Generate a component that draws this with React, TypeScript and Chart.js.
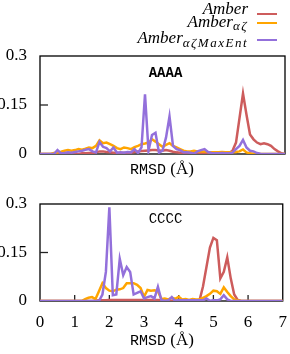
import React, { useEffect, useRef } from "react";
import { Chart, registerables } from "chart.js";

Chart.register(...registerables);

// RMSD bins (Å)
const RMSD = [
  0.0, 0.1, 0.2, 0.3, 0.4, 0.5, 0.6, 0.7, 0.8, 0.9,
  1.0, 1.1, 1.2, 1.3, 1.4, 1.5, 1.6, 1.7, 1.8, 1.9,
  2.0, 2.1, 2.2, 2.3, 2.4, 2.5, 2.6, 2.7, 2.8, 2.9,
  3.0, 3.1, 3.2, 3.3, 3.4, 3.5, 3.6, 3.7, 3.8, 3.9,
  4.0, 4.1, 4.2, 4.3, 4.4, 4.5, 4.6, 4.7, 4.8, 4.9,
  5.0, 5.1, 5.2, 5.3, 5.4, 5.5, 5.6, 5.7, 5.8, 5.9,
  6.0, 6.1, 6.2, 6.3, 6.4, 6.5, 6.6, 6.7, 6.8, 6.9, 7.0,
];

// AAAA panel
const AAAA_AMBER = [
  0, 0, 0, 0, 0, 0, 0, 0, 0, 0,
  0, 0, 0.002, 0.002, 0.003, 0.003, 0.005, 0.008, 0.008, 0.006,
  0.005, 0.004, 0.003, 0.003, 0.004, 0.003, 0.004, 0.006, 0.008, 0.009,
  0.01, 0.011, 0.012, 0.012, 0.011, 0.01, 0.012, 0.01, 0.007, 0.005,
  0.004, 0.003, 0.002, 0.002, 0.002, 0.002, 0.003, 0.002, 0.002, 0.002,
  0.002, 0.002, 0.002, 0.002, 0.003, 0.01, 0.035, 0.11, 0.185, 0.12,
  0.06, 0.045, 0.035, 0.03, 0.033, 0.03, 0.025, 0.015, 0.008, 0.002, 0,
];
const AAAA_AZ = [
  0, 0, 0, 0, 0.003, 0.005, 0.007, 0.01, 0.012, 0.01,
  0.012, 0.015, 0.013, 0.016, 0.02, 0.018, 0.025, 0.042, 0.033, 0.035,
  0.03, 0.025, 0.018, 0.015, 0.02, 0.018, 0.015, 0.021, 0.025, 0.03,
  0.032, 0.035, 0.045, 0.038, 0.03, 0.022, 0.028, 0.033, 0.025, 0.02,
  0.015, 0.01, 0.008, 0.008, 0.01, 0.008, 0.008, 0.008, 0.006, 0.005,
  0.005, 0.005, 0.006, 0.005, 0.005, 0.005, 0.006, 0.008, 0.014, 0.005,
  0.002, 0.001, 0, 0, 0, 0, 0, 0, 0, 0, 0,
];
const AAAA_AZME = [
  0, 0, 0, 0, 0, 0.012, 0.002, 0.003, 0.005, 0.004,
  0.006, 0.008, 0.01, 0.013, 0.015, 0.008, 0.005, 0.037, 0.022, 0.018,
  0.008, 0.02, 0.004, 0.005, 0.004, 0.006, 0.005, 0.015, 0.003, 0.02,
  0.183, 0.01, 0.058, 0.065, 0.004, 0.01, 0.05, 0.115, 0.025, 0.015,
  0.012, 0.005, 0.005, 0.004, 0.001, 0.008, 0.012, 0.015, 0.006, 0.003,
  0.002, 0.002, 0.003, 0.002, 0.002, 0.004, 0.015, 0.025, 0.043, 0.02,
  0.01, 0.008, 0.003, 0.001, 0, 0, 0, 0, 0, 0, 0,
];

// CCCC panel
const CCCC_AMBER = [
  0, 0, 0, 0, 0, 0, 0, 0, 0, 0,
  0, 0, 0, 0, 0, 0, 0.001, 0.002, 0.002, 0.002,
  0.003, 0.003, 0.003, 0.003, 0.003, 0.003, 0.003, 0.003, 0.003, 0.003,
  0.003, 0.003, 0.003, 0.003, 0.003, 0.002, 0.002, 0.002, 0.001, 0.001,
  0.001, 0.001, 0.001, 0.001, 0.001, 0.001, 0.002, 0.045, 0.105, 0.165,
  0.195, 0.188, 0.07, 0.09, 0.135, 0.07, 0.02, 0.003, 0, 0,
  0, 0, 0, 0, 0, 0, 0, 0, 0, 0, 0,
];
const CCCC_AZ = [
  0, 0, 0, 0, 0, 0, 0, 0, 0, 0,
  0, 0, 0, 0.006, 0.01, 0.012, 0.006, 0.03, 0.055, 0.04,
  0.032, 0.03, 0.035, 0.036, 0.04, 0.055, 0.055, 0.055, 0.05, 0.04,
  0.013, 0.034, 0.032, 0.033, 0.03, 0.006, 0.008, 0.005, 0.01, 0.007,
  0.013, 0.005, 0.006, 0.003, 0.006, 0.005, 0.005, 0.01, 0.015, 0.022,
  0.032, 0.03, 0.022, 0.042, 0.028, 0.015, 0.005, 0.002, 0, 0,
  0, 0, 0, 0, 0, 0, 0, 0, 0, 0, 0,
];
const CCCC_AZME = [
  0, 0, 0, 0, 0, 0, 0, 0, 0, 0,
  0, 0, 0, 0, 0, 0, 0, 0, 0.02, 0.09,
  0.29, 0.018, 0.02, 0.13, 0.08, 0.105, 0.09, 0.02, 0.025, 0.03,
  0.008, 0.012, 0.015, 0.008, 0.044, 0.003, 0, 0.002, 0.012, 0,
  0.003, 0.002, 0.002, 0.002, 0.002, 0.002, 0.002, 0.002, 0.008, 0.001,
  0.002, 0.002, 0.005, 0.018, 0.005, 0, 0, 0, 0, 0,
  0, 0, 0, 0, 0, 0, 0, 0, 0, 0, 0,
];

const Y_TICKS = [0, 0.15, 0.3];
const Y_TICK_LABELS = ["0", "0.15", "0.3"];
const X_TICKS = [0, 1, 2, 3, 4, 5, 6, 7];
const X_TICK_LABELS = ["0", "1", "2", "3", "4", "5", "6", "7"];

const RED = "#cd5c5c";
const ORANGE = "#ffa500";
const PURPLE = "#9370db";

const W = 290;
const H = 354;

const toPts = (ys: number[]) => ys.map((y, i) => ({ x: RMSD[i], y }));

const framePlugin = (showXTicks: boolean) => ({
  id: "frame",
  beforeDatasetsDraw(chart: any) {
    const { ctx, chartArea: a, scales } = chart;
    ctx.save();
    ctx.strokeStyle = "#000";
    ctx.lineWidth = 1.3;
    ctx.strokeRect(a.left, a.top, a.right - a.left, a.bottom - a.top);
    ctx.lineWidth = 1.3;
    ctx.strokeStyle = "#222";
    const yMid = scales.y.getPixelForValue(Y_TICKS[1]);
    ctx.beginPath();
    ctx.moveTo(a.left, yMid);
    ctx.lineTo(a.left + 8, yMid);
    ctx.stroke();
    if (showXTicks) {
      for (let i = 1; i < X_TICKS.length - 1; i++) {
        const px = scales.x.getPixelForValue(X_TICKS[i]);
        ctx.beginPath();
        ctx.moveTo(px, a.bottom);
        ctx.lineTo(px, a.bottom - 6);
        ctx.stroke();
      }
    }
    ctx.restore();
  },
});

function makeConfig(
  amber: number[],
  az: number[],
  azme: number[],
  top: number,
  bottomH: number,
  showX: boolean
): any {
  const ds = (label: string, data: number[], color: string) => ({
    label,
    data: toPts(data),
    borderColor: color,
    backgroundColor: color,
    borderWidth: 2.5,
    pointRadius: 0,
    tension: 0,
    fill: false,
  });
  return {
    type: "line",
    data: {
      datasets: [
        ds("Amber αζ MaxEnt", azme, PURPLE),
        ds("Amber αζ", az, ORANGE),
        ds("Amber", amber, RED),
      ],
    },
    options: {
      animation: false,
      responsive: false,
      devicePixelRatio: 1,
      events: [],
      layout: { padding: { top, right: 5, left: 0, bottom: 0 } },
      plugins: { legend: { display: false }, tooltip: { enabled: false } },
      scales: {
        x: {
          type: "linear",
          min: 0,
          max: 7,
          afterFit: (s: any) => {
            s.height = bottomH;
          },
          afterBuildTicks: (s: any) => {
            s.ticks = X_TICKS.map((v) => ({ value: v }));
          },
          grid: { display: false },
          border: { display: false },
          ticks: {
            display: showX,
            padding: 3,
            color: "#000",
            font: { family: "Liberation Serif", size: 17 },
            maxRotation: 0,
            autoSkip: false,
            callback: (v: number) => X_TICK_LABELS[X_TICKS.indexOf(v)] ?? "",
          },
        },
        y: {
          min: 0,
          max: 0.3,
          afterFit: (s: any) => {
            s.width = 40;
          },
          afterBuildTicks: (s: any) => {
            s.ticks = Y_TICKS.map((v) => ({ value: v }));
          },
          grid: { display: false },
          border: { display: false },
          ticks: {
            padding: 5,
            color: "#000",
            font: { family: "Liberation Serif", size: 17 },
            callback: (v: number) => Y_TICK_LABELS[Y_TICKS.indexOf(v)] ?? "",
          },
        },
      },
    },
    plugins: [framePlugin(showX)],
  };
}

const abs = (s: React.CSSProperties): React.CSSProperties => ({
  position: "absolute",
  whiteSpace: "nowrap",
  margin: 0,
  ...s,
});

function LegendRow({
  top,
  sub,
  lineY,
  color,
}: {
  top: number;
  sub?: string;
  lineY: number;
  color: string;
}) {
  return (
    <>
      <div
        style={abs({
          right: 42,
          top,
          fontFamily: "Liberation Serif",
          fontStyle: "italic",
          fontSize: 17,
          lineHeight: "17px",
          color: "#000",
        })}
      >
        Amber
        {sub ? (
          <span
            style={{
              fontSize: 13,
              letterSpacing: 1.5,
              position: "relative",
              top: 3.5,
            }}
          >
            {sub}
          </span>
        ) : null}
      </div>
      <div
        style={abs({
          left: 257,
          top: lineY - 1.25,
          width: 20,
          height: 2.5,
          background: color,
        })}
      />
    </>
  );
}

function AxisTitle({ top }: { top: number }) {
  return (
    <div
      style={abs({
        left: 0,
        width: 324,
        top,
        textAlign: "center",
        lineHeight: "20px",
        color: "#000",
      })}
    >
      <span style={{ fontFamily: "Liberation Mono", fontSize: 15 }}>RMSD</span>
      <span style={{ fontFamily: "Liberation Serif", fontSize: 17 }}> (Å)</span>
    </div>
  );
}

export default function App() {
  const topRef = useRef<HTMLCanvasElement>(null);
  const botRef = useRef<HTMLCanvasElement>(null);

  useEffect(() => {
    const c1 = new Chart(
      topRef.current as HTMLCanvasElement,
      makeConfig(AAAA_AMBER, AAAA_AZ, AAAA_AZME, 56, H - 154, false)
    );
    const c2 = new Chart(
      botRef.current as HTMLCanvasElement,
      makeConfig(CCCC_AMBER, CCCC_AZ, CCCC_AZME, 204, H - 301, true)
    );
    return () => {
      c1.destroy();
      c2.destroy();
    };
  }, []);

  return (
    <div
      style={{
        position: "fixed",
        left: 0,
        top: 0,
        width: W,
        height: H,
        background: "#fff",
        overflow: "hidden",
      }}
    >
      <canvas
        ref={topRef}
        width={W}
        height={H}
        style={{ position: "absolute", left: 0, top: 0, width: W, height: H }}
      />
      <canvas
        ref={botRef}
        width={W}
        height={H}
        style={{ position: "absolute", left: 0, top: 0, width: W, height: H }}
      />
      <LegendRow top={-0.5} lineY={14} color={RED} />
      <LegendRow top={12.5} sub="αζ" lineY={23} color={ORANGE} />
      <LegendRow top={29} sub="αζMaxEnt" lineY={40} color={PURPLE} />
      <div
        style={abs({
          left: 148,
          width: 35,
          top: 65.9,
          textAlign: "center",
          fontFamily: "Liberation Mono",
          fontWeight: "bold",
          fontSize: 14,
          lineHeight: "14px",
          color: "#000",
        })}
      >
        AAAA
      </div>
      <div
        style={abs({
          left: 148,
          width: 35,
          top: 212.3,
          textAlign: "center",
          fontFamily: "Liberation Mono",
          fontSize: 14,
          lineHeight: "14px",
          color: "#000",
        })}
      >
        CCCC
      </div>
      <AxisTitle top={158.8} />
      <AxisTitle top={329.5} />
    </div>
  );
}
